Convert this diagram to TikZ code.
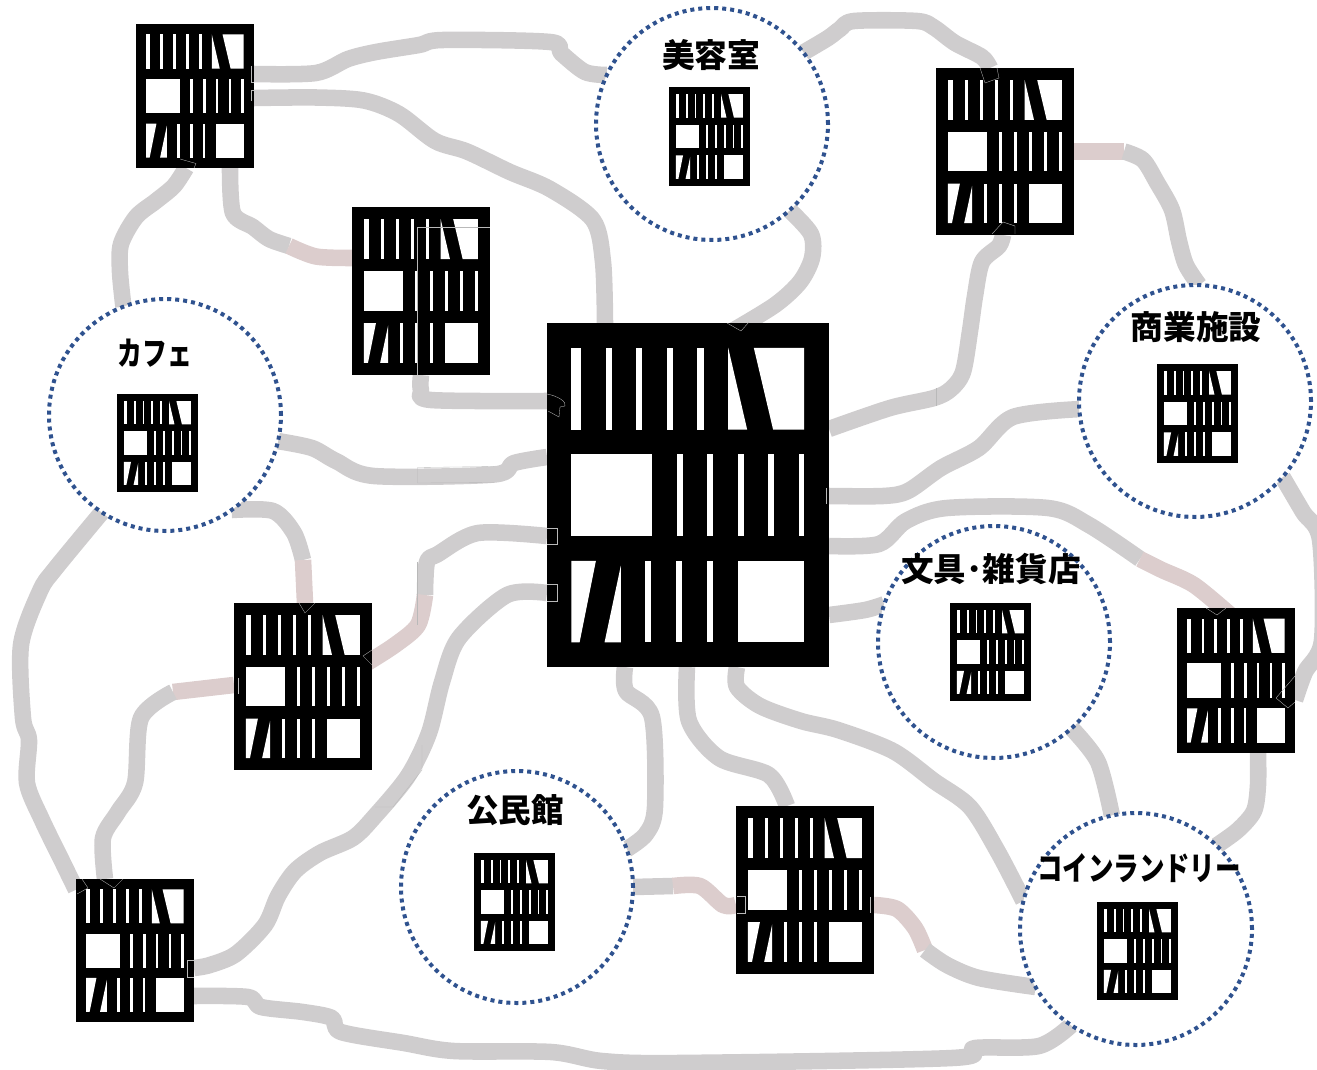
\documentclass[tikz,border=0pt]{standalone}
\usepackage{fontspec}
\usetikzlibrary{backgrounds}
\newfontfamily\jpfont{Noto Sans CJK JP}
\definecolor{roadgray}{RGB}{207,205,206}
\definecolor{roadpink}{RGB}{220,205,205}
\definecolor{dotblue}{RGB}{47,82,143}
\tikzset{
  shelfbody/.style={draw=none,fill=black,rectangle,inner sep=0pt,outer sep=0pt},
  place/.style={circle,draw=dotblue,fill=white,line width=3pt,dash pattern=on 3pt off 3pt,minimum size=174pt,inner sep=0pt,outer sep=0pt},
  placetext/.style={font=\jpfont\bfseries\fontsize{24.5}{24.5}\selectfont,inner sep=0pt},
  narrowtext/.style={placetext,transform shape,xscale=#1},
  road/.style={draw=roadgray,line width=12.4pt,line join=round},
  roadp/.style={road,draw=roadpink},
  seam/.style={draw=gray!55,line width=0.25pt}
}
\newcommand{\hole}[4]{\fill[white] ( #1 , #2 ) rectangle ( #3 , #4 );}
\newcommand{\shelf}[5]{
  \pgfmathsetmacro{\shelfw}{#4-#2}
  \pgfmathsetmacro{\shelfh}{#5-#3}
  \node[shelfbody,minimum width=\shelfw*0.75pt,minimum height=\shelfh*0.75pt] (#1) at ({(#2+#4)/2},{(#3+#5)/2}) {};
  \begin{scope}[shift={(#2,#3)},xscale=\shelfw/848,yscale=\shelfh/1035]
    % top
    \hole{73}{75}{102}{321} \hole{176}{75}{194}{321} \hole{268}{75}{286}{321}
    \hole{360}{75}{378}{321} \hole{452}{75}{471}{321}
    \fill[white] (545,75) -- (602,321) -- (545,321) -- cycle;
    \fill[white] (622,75) -- (773,75) -- (773,321) -- (680,321) -- cycle;
    % middle
    \hole{73}{395}{316}{641} \hole{390}{395}{408}{641} \hole{482}{395}{500}{641}
    \hole{574}{395}{592}{641} \hole{666}{395}{684}{641} \hole{758}{395}{773}{641}
    % bottom
    \fill[white] (73,716) -- (147,716) -- (98,961) -- (73,961) -- cycle;
    \fill[white] (222,730) -- (222,961) -- (173,961) -- cycle;
    \hole{296}{716}{314}{961} \hole{389}{716}{407}{961} \hole{480}{716}{498}{961}
    \hole{573}{716}{773}{961}
  \end{scope}
}
\newcommand{\road}[1]{\draw[road] plot[smooth,tension=0.5] coordinates {#1};}
\newcommand{\roadP}[1]{\draw[roadp] plot[smooth,tension=0.5] coordinates {#1};}
\begin{document}
\begin{tikzpicture}[x=0.75pt,y=-0.75pt]
  \useasboundingbox (0,0) rectangle (1317,1070);
  % large shelves
  \shelf{main}{547}{323}{829}{667}
  \shelf{shelfA}{136}{24}{254}{168}
  \shelf{shelfB}{352}{207}{490}{375}
  \shelf{shelfC}{936}{68}{1074}{235}
  \shelf{shelfD}{234}{603}{372}{770}
  \shelf{shelfE}{76}{879}{194}{1022}
  \shelf{shelfF}{736}{806}{874}{974}
  \shelf{shelfG}{1177}{608}{1295}{753}
  % places
  \node[place] (beauty) at (712,124) {};
  \node[place] (cafe) at (165,415) {};
  \node[place] (mall) at (1195,401) {};
  \node[place] (stationery) at (994,642) {};
  \node[place] (hall) at (517,887) {};
  \node[place] (laundry) at (1136,929) {};
  \node[placetext] (beautytext) at (711,55) {美容室};
  \node[narrowtext=0.76] (cafetext) at (155,353) {カフェ};
  \node[placetext] (malltext) at (1196,327) {商業施設};
  \node[placetext] (stationerytext) at (991,569) {文具･雑貨店};
  \node[placetext] (halltext) at (515,810) {公民館};
  \node[narrowtext=0.78] (laundrytext) at (1139,868) {コインランドリー};
  % small shelves
  \shelf{shelfbeauty}{669}{87}{750}{186}
  \shelf{shelfcafe}{117}{394}{198}{492}
  \shelf{shelfmall}{1157}{364}{1238}{463}
  \shelf{shelfstationery}{950}{603}{1031}{701}
  \shelf{shelfhall}{474}{853}{555}{951}
  \shelf{shelflaundry}{1097}{902}{1178}{1000}
  % joints
  \coordinate (jointA) at (289,246);
  \coordinate (jointB) at (1124,151.5);
  \coordinate (jointC) at (1140,559);
  \coordinate (jointD) at (673,886);
  \coordinate (jointE) at (925,950);
  \coordinate (jointF) at (425,595);
  \coordinate (jointG) at (303,560);
  \coordinate (jointH) at (173,692);
  \begin{scope}[on background layer]
    % top left
    \road{(shelfA.east |- 0,74) (316,73) (348,59) (376,52) (419,45) (443,40) (550,42) (561,53) (585,72) (beauty.155)}
    \road{(shelfA.east |- 0,98) (316,97.5) (364,100.5) (399,114) (435,141) (467,151.5) (510,172) (550,189) (593,220) (603,262) (main.north -| 605,0)}
    \road{(shelfA.south -| 186,0) (174,186) (156,201) (136,217) (121,244) (120,272) (cafe.111)}
    \road{(shelfA.south -| 230,0) (233,213) (253,227) (269,239) (jointA)}
    \roadP{(jointA) (316,256.5) (shelfB.west |- 0,258)}
    \road{(shelfB.south -| 421,0) (421,390) (431,400) (main.west |- 0,401)}
    \road{(cafe.-13) (312,448) (336,461) (374,476) (494,474.5) (514,463) (main.west |- 0,457)}
    % top right
    \road{(beauty.38) (828,38) (840,29) (854,21) (917,21) (934,27.5) (955,43) (982,57) (shelfC.north -| 990,0)}
    \road{(beauty.-48) (811,234) (812,258) (800,282) (775,305) ([yshift=-7pt]main.north -| 730,0)}
    \road{(shelfC.south -| 1003,0) (999,246) (982,262) (975,296) (970,331) (963,372) (951,389) (934,398) (890,408) (main.east |- 0,429)}
    \roadP{(shelfC.east |- 0,151.5) (1100,151.5) (jointB)}
    \road{(jointB) (1143,160) (1157,182.5) (1172,210) (1179,241) (1186,265) (mall.88)}
    \road{(main.east |- 0,496) (883,496) (908,491) (941,468) (979,448) (1013,417) (mall.184)}
    % right
    \road{(main.east |- 0,546) (879,544) (906,521) (947,508) (1048,508) (1089,525) (jointC)}
    \roadP{(jointC) (1162,570) (1194,585) ([yshift=-5pt]shelfG.north -| 1230,0)}
    \road{(main.east |- 0,615) (865,610) (stationery.161)}
    \road{(mall.-41) (1303,512) (1320,540) (1322,640) (1305,672) (shelfG.east |- 0,700)}
    \road{(shelfG.south -| 1258,0) (1258,785) (1254,811) (1238,830) (laundry.46)}
    \road{(stationery.-48) (1098,762) (laundry.102)}
    \road{(main.south -| 737,0) (737,687) (760,706) (801,721) (838,730) (893,751) (934,781) (970,807) (998,852) (laundry.166)}
    % bottom
    \road{(main.south -| 687,0) (689,721) (719,758) (769,775) (shelfF.north -| 787,0)}
    \road{(main.south -| 625,0) (626,691) (652,717) (655,807) (646,834) (hall.19)}
    \road{(hall.east) (jointD)}
    \roadP{(jointD) (700,886) (723,905) (shelfF.west |- 0,905)}
    \roadP{(shelfF.east |- 0,905) (897,909) (915,928) (jointE)}
    \road{(jointE) (947,965) (979,978) (laundry.210)}
    % left
    \road{(main.west |- 0,536) (478,533) (438,554) (427,562) (jointF)}
    \roadP{(jointF) (418,625) (395,645) ([xshift=-5pt]shelfD.east |- 0,664)}
    \road{(main.west |- 0,593) (507,595) (459,638) (442,682) (429,733) (408,776) (375,816) (353,838) (320,853) (295,871) (278,896) (265,925) (236,954) (210,965) (shelfE.east |- 0,968)}
    \road{(shelfE.east |- 0,996) (248,997) (261,1007) (303,1012) (332,1018) (341,1032) (404,1043) (454,1051) (551,1052) (602,1061) (678,1063) (952,1058) (975,1048) (1039,1046) (laundry.236)}
    \road{(cafe.237) (55,569) (40,591) (21,645) (23,718) (29,740) (27,783) (42,820) (63,863) ([yshift=-8pt]shelfE.north west)}
    \road{(cafe.-55) (273,511) (294,533) (jointG)}
    \roadP{(jointG) (shelfD.north -| 305,0)}
    \roadP{(shelfD.west |- 0,685) (jointH)}
    \road{(jointH) (141,718) (135,783) (118,812) (103,838) (shelfE.north -| 105,0)}
  \end{scope}
  % seams
  \draw[seam] (417,375) -- (417,227) -- (490,227);
  \draw[seam] (547,528) -| (557,544) -- (547,544);
  \draw[seam] (547,584) -| (557,601) -- (547,601);
  \draw[seam] (547,394) .. controls (558,396) and (567,402) .. (565,406) -- (560,407) -- (559,417) -- (548,411);
  \draw[seam] (250.7,66) -- (250.7,82) -- (254,82);
  \draw[seam] (254,90) -- (250.7,90) -- (250.7,101);
  \draw[seam] (180,159) -- (196,163.5) -- (194,168);
  \draw[seam] (992,234) -- (1003,222) -- (1015,226) -- (1015,234);
  \draw[seam] (980,68) -- (985,83) -- (999,78) -- (997,68);
  \draw[seam] (727,323) -- (741,331) -- (749,322);
  \draw[seam] (1206,608) -- (1217,615) -- (1226,608);
  \draw[seam] (1295,676) -- (1276,698) -- (1288,708) -- (1295,702);
  \draw[seam] (299,603) -- (305,613) -- (315,603);
  \draw[seam] (372,650) -- (363,656) -- (372,665);
  \draw[seam] (82,879) -- (88,888) -- (77,894);
  \draw[seam] (100,879) -- (114,888) -- (123,879);
  \draw[seam] (238,678) -- (238,694);
  \draw[seam] (194,960) -| (187,977) -- (194,977);
  \draw[seam] (737,896) -| (745,913) -- (737,913);
  \draw[seam] (870,897) -- (870,913);
  \draw[seam] (826,488) -- (826,504);
  \draw[seam] (494,466.5) -- (417.5,467.5) -- (417.5,483) -- (494,482.5);
  \draw[seam] (936,388) -- (936,406);
  \draw[seam] (417.5,562) -- (417.5,625);
  \draw[seam] (422,745) -- (422,770) -- (393,807) -- (375,807);
\end{tikzpicture}
\end{document}
